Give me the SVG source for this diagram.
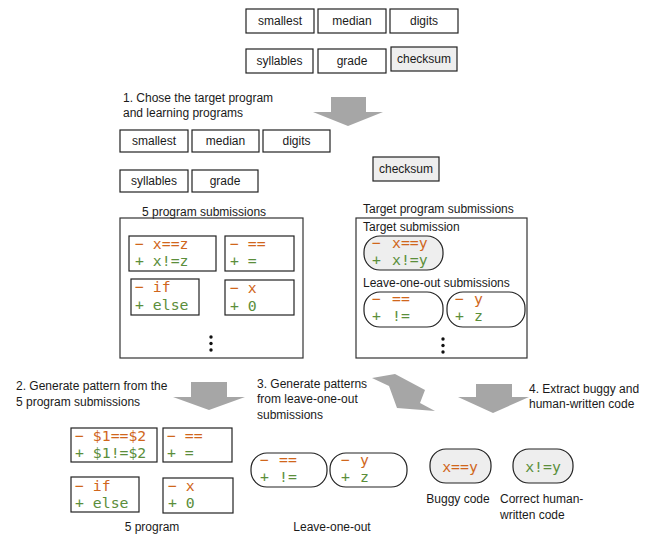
<svg xmlns="http://www.w3.org/2000/svg" width="651" height="534" viewBox="0 0 651 534">
<style>
.bg{fill:#ffffff}
.box{fill:#ffffff;stroke:#222;stroke-width:1.2}
.gbox{fill:#eeeeee;stroke:#222;stroke-width:1.2}
.frame{fill:none;stroke:#333;stroke-width:1.2}
.t{font-family:"Liberation Sans",Arial,sans-serif;font-size:12px;fill:#1a1a1a}
.c{text-anchor:middle}
.m{font-family:"DejaVu Sans Mono","Liberation Mono",monospace;font-size:14.8px;white-space:pre}
.o{fill:#D0661C}
.g{fill:#5B8E3B}
.arr{fill:#A6A6A6}
.dot{fill:#111}
</style>
<rect class="bg" x="0" y="0" width="651" height="534"/>

<g id="connectors">
  <polygon class="arr" points="331,97 366,97 366,112 383,112 348,126 313,112 331,112"/>
  <polygon class="arr" points="191,382 227,382 227,397 245,397 209,410 173,397 191,397"/>
  <polygon class="arr" points="372,378 395,374 425,390 420,403 435,411 397,408 389,386"/>
  <polygon class="arr" points="476,384 512,384 512,397 529,397 493,413 458,397 476,397"/>
</g>

<g id="top-programs">
  <g id="top-smallest"><rect class="box" x="246" y="9" width="68" height="24"/><text class="t c" x="280" y="25">smallest</text></g>
  <g id="top-median"><rect class="box" x="318" y="9" width="68" height="24"/><text class="t c" x="352" y="25">median</text></g>
  <g id="top-digits"><rect class="box" x="390" y="9" width="68" height="24"/><text class="t c" x="424" y="25">digits</text></g>
  <g id="top-syllables"><rect class="box" x="246" y="49" width="67" height="24"/><text class="t c" x="279.5" y="65">syllables</text></g>
  <g id="top-grade"><rect class="box" x="318" y="49" width="68" height="24"/><text class="t c" x="352" y="65">grade</text></g>
  <g id="top-checksum"><rect class="gbox" x="391" y="47" width="66" height="24"/><text class="t c" x="424" y="63">checksum</text></g>
</g>

<g id="step1-label"><text class="t" x="123" y="102">1. Chose the target program</text><text class="t" x="123" y="117">and learning programs</text></g>

<g id="learning-programs">
  <g id="lp-smallest"><rect class="box" x="120" y="130" width="68" height="22"/><text class="t c" x="154" y="145">smallest</text></g>
  <g id="lp-median"><rect class="box" x="192" y="130" width="67" height="22"/><text class="t c" x="225.5" y="145">median</text></g>
  <g id="lp-digits"><rect class="box" x="263" y="130" width="67" height="22"/><text class="t c" x="296.5" y="145">digits</text></g>
  <g id="lp-syllables"><rect class="box" x="120" y="170" width="68" height="22"/><text class="t c" x="154" y="185">syllables</text></g>
  <g id="lp-grade"><rect class="box" x="192" y="170" width="66" height="22"/><text class="t c" x="225" y="185">grade</text></g>
</g>
<g id="target-checksum"><rect class="gbox" x="373" y="157" width="66" height="24"/><text class="t c" x="406" y="173">checksum</text></g>

<g id="five-program-submissions">
  <text class="t" x="142" y="216">5 program submissions</text>
  <rect class="frame" x="120" y="218" width="183" height="140"/>
  <g id="s1"><rect class="box" x="129" y="236" width="87" height="35"/><text class="m o" x="135" y="249">− x==z</text><text class="m g" x="135" y="266">+ x!=z</text></g>
  <g id="s2"><rect class="box" x="225" y="236" width="69" height="35"/><text class="m o" x="230" y="249">− ==</text><text class="m g" x="230" y="266">+ =</text></g>
  <g id="s3"><rect class="box" x="131" y="279" width="68" height="36"/><text class="m o" x="135" y="292">− if</text><text class="m g" x="135" y="310">+ else</text></g>
  <g id="s4"><rect class="box" x="225" y="280" width="69" height="35"/><text class="m o" x="230" y="293">− x</text><text class="m g" x="230" y="311">+ 0</text></g>
  <circle class="dot" cx="211" cy="337" r="1.7"/><circle class="dot" cx="211" cy="343.5" r="1.7"/><circle class="dot" cx="211" cy="350" r="1.7"/>
</g>

<g id="target-program-submissions">
  <text class="t" x="363" y="213">Target program submissions</text>
  <rect class="frame" x="356" y="218" width="171" height="140"/>
  <text class="t" x="363" y="231">Target submission</text>
  <g id="target-sub"><rect class="gbox" x="364" y="236" width="79" height="34" rx="16"/><text class="m o" y="248"><tspan x="372">−</tspan><tspan x="392">x==y</tspan></text><text class="m g" y="265"><tspan x="372">+</tspan><tspan x="392">x!=y</tspan></text></g>
  <text class="t" x="363" y="287">Leave-one-out submissions</text>
  <g id="loo1"><rect class="box" x="364" y="292" width="79" height="35" rx="16"/><text class="m o" y="304"><tspan x="372">−</tspan><tspan x="392">==</tspan></text><text class="m g" y="321"><tspan x="372">+</tspan><tspan x="392">!=</tspan></text></g>
  <g id="loo2"><rect class="box" x="447" y="292" width="78" height="35" rx="16"/><text class="m o" y="304"><tspan x="455">−</tspan><tspan x="474">y</tspan></text><text class="m g" y="321"><tspan x="455">+</tspan><tspan x="474">z</tspan></text></g>
  <circle class="dot" cx="443" cy="339" r="1.7"/><circle class="dot" cx="443" cy="345.5" r="1.7"/><circle class="dot" cx="443" cy="352" r="1.7"/>
</g>

<g id="step2-label"><text class="t" x="16" y="390">2. Generate pattern from the</text><text class="t" x="16" y="406">5 program submissions</text></g>
<g id="step3-label"><text class="t" x="257" y="388">3. Generate patterns</text><text class="t" x="257" y="403">from leave-one-out</text><text class="t" x="257" y="419">submissions</text></g>
<g id="step4-label"><text class="t" x="529" y="393">4. Extract buggy and</text><text class="t" x="529" y="408">human-written code</text></g>

<g id="five-program-patterns">
  <g id="p1"><rect class="box" x="71" y="428" width="86" height="34"/><text class="m o" x="75" y="441">− $1==$2</text><text class="m g" x="75" y="458">+ $1!=$2</text></g>
  <g id="p2"><rect class="box" x="163" y="428" width="69" height="34"/><text class="m o" x="167" y="441">− ==</text><text class="m g" x="167" y="458">+ =</text></g>
  <g id="p3"><rect class="box" x="71" y="477" width="68" height="35"/><text class="m o" x="75" y="491">− if</text><text class="m g" x="75" y="508">+ else</text></g>
  <g id="p4"><rect class="box" x="163" y="478" width="70" height="35"/><text class="m o" x="168" y="491">− x</text><text class="m g" x="168" y="508">+ 0</text></g>
  <text class="t c" x="152" y="531">5 program</text>
</g>

<g id="loo-patterns">
  <g id="lp1"><rect class="box" x="251" y="453" width="76" height="34" rx="16"/><text class="m o" y="465"><tspan x="260">−</tspan><tspan x="279">==</tspan></text><text class="m g" y="482"><tspan x="260">+</tspan><tspan x="279">!=</tspan></text></g>
  <g id="lp2"><rect class="box" x="330" y="453" width="77" height="34" rx="16"/><text class="m o" y="465"><tspan x="341">−</tspan><tspan x="360">y</tspan></text><text class="m g" y="482"><tspan x="341">+</tspan><tspan x="360">z</tspan></text></g>
  <text class="t c" x="332" y="531">Leave-one-out</text>
</g>

<g id="buggy-code"><rect class="gbox" x="430" y="449" width="61" height="34" rx="16"/><text class="m o c" x="460" y="472">x==y</text><text class="t c" x="458" y="503">Buggy code</text></g>
<g id="correct-code"><rect class="gbox" x="513" y="449" width="60" height="34" rx="16"/><text class="m g c" x="543" y="472">x!=y</text><text class="t" x="500" y="503">Correct human-</text><text class="t" x="500" y="519">written code</text></g>
</svg>
